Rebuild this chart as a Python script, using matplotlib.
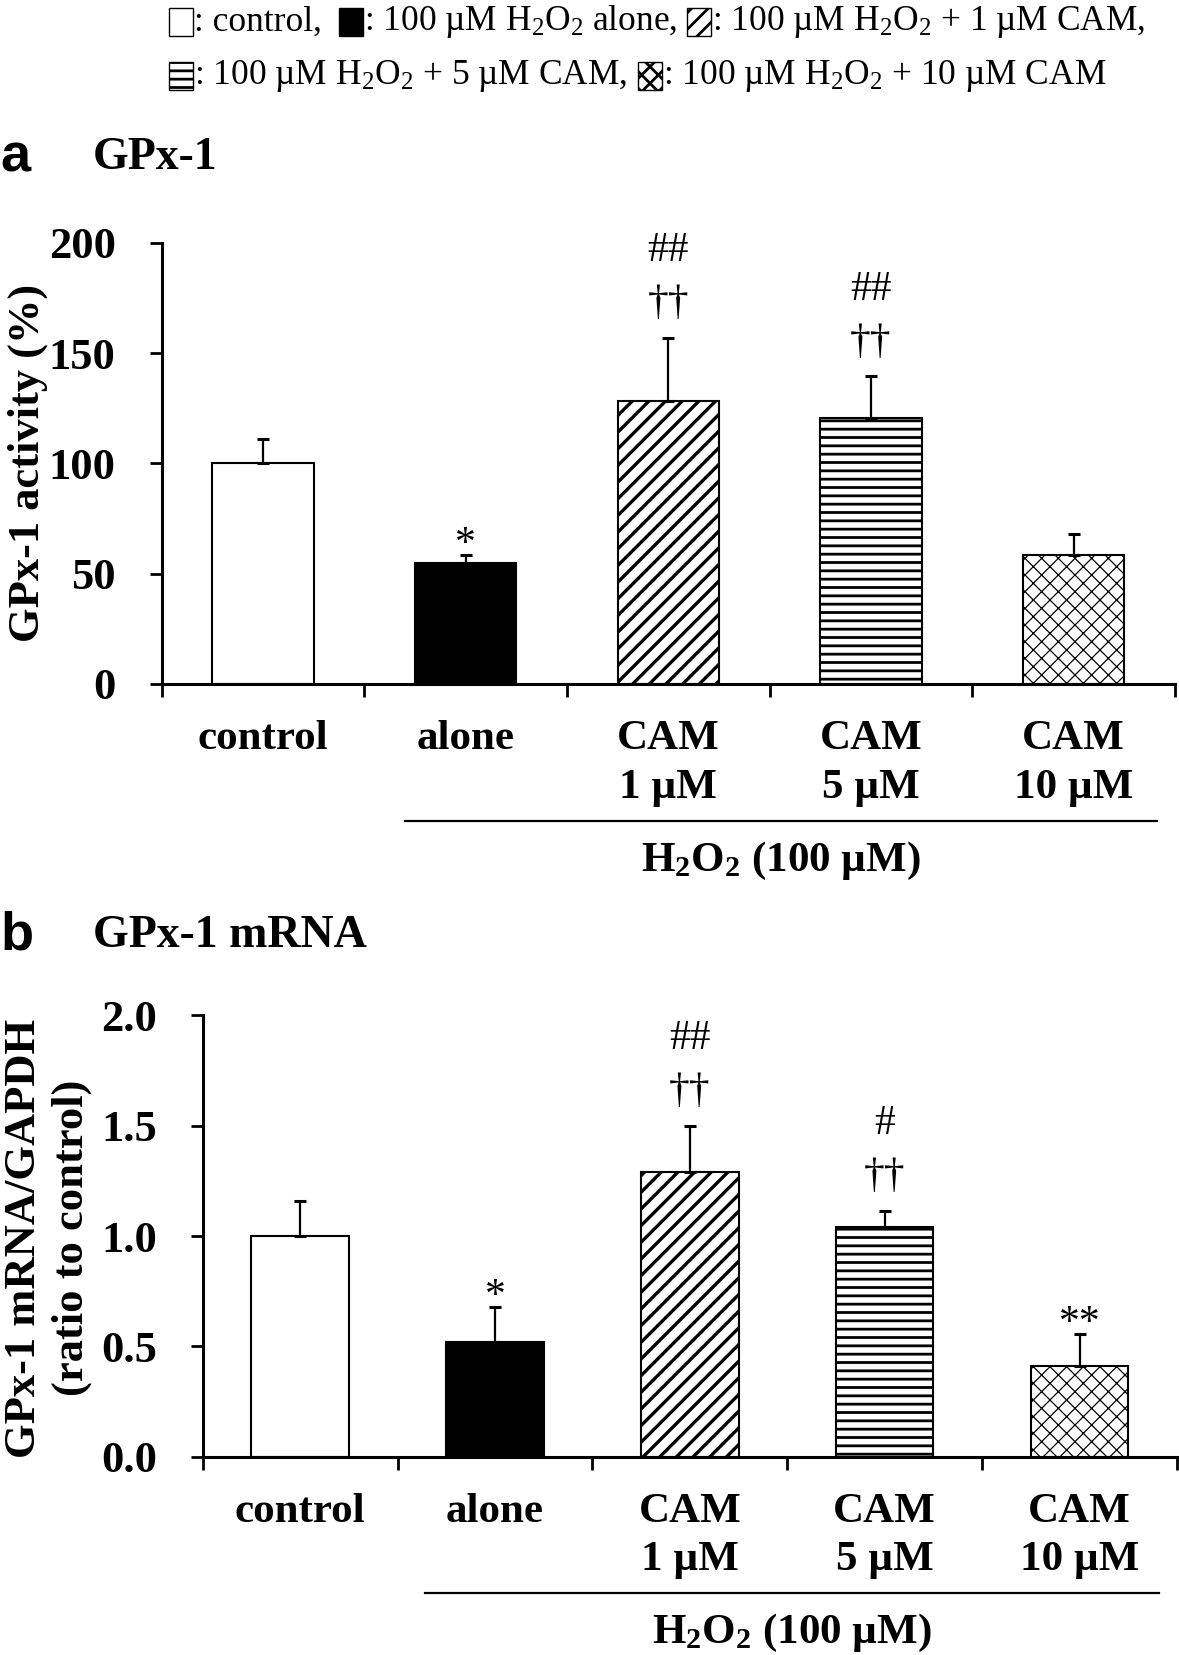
import numpy as np
import matplotlib
matplotlib.use("Agg")
import matplotlib.pyplot as plt
from matplotlib.patches import Rectangle

plt.rcParams['font.family'] = ['Liberation Serif', 'DejaVu Serif']
plt.rcParams['mathtext.fontset'] = 'custom'
plt.rcParams['mathtext.rm'] = 'Liberation Serif'
plt.rcParams['mathtext.bf'] = 'Liberation Serif:bold'
plt.rcParams['mathtext.it'] = 'Liberation Serif:italic'
plt.rcParams['hatch.linewidth'] = 2.0

# data
groups = ['control', 'alone', 'CAM', 'CAM', 'CAM']
doses = ['', '', '1 µM', '5 µM', '10 µM']
legend_labels = [': control, ',
                 r': 100 µM H$_2$O$_2$ alone, ',
                 r': 100 µM H$_2$O$_2$ + 1 µM CAM,',
                 r': 100 µM H$_2$O$_2$ + 5 µM CAM, ',
                 r': 100 µM H$_2$O$_2$ + 10 µM CAM']

activity = [100, 55, 128.5, 120.5, 58.5]
activity_err = [11, 3.5, 28.5, 19, 9.5]
activity_marks = [[], ['*'], ['††', '##'], ['††', '##'], []]
activity_ticks = [0, 50, 100, 150, 200]

mrna = [1.0, 0.52, 1.29, 1.04, 0.41]
mrna_err = [0.16, 0.16, 0.21, 0.075, 0.145]
mrna_marks = [[], ['*'], ['††', '##'], ['††', '#'], ['**']]
mrna_ticks = [0.0, 0.5, 1.0, 1.5, 2.0]

# styles
fills = ['white', 'black', 'white', 'white', 'white']
hatches = [None, None, '//', '--', 'xx']
hatch_lw = [1.0, 1.0, 2.4, 2.0, 0.9]
mark_offset = {'*': 0, '†': 17, '#': 55}   # baseline offset above error cap, points

W, H = 1179, 1655
fig = plt.figure(figsize=(W / 100, H / 100), dpi=100)


def fx(px):
    return px / W


def fy(py):
    return 1 - py / H


def draw_panel(ax, vals, errs, marks, ticks, ylim, ticklabels, line_x):
    x = np.arange(len(vals))
    bars = ax.bar(x, vals, width=0.5, color=fills, edgecolor='black', linewidth=1.5, zorder=2)
    for b, h, lw in zip(bars, hatches, hatch_lw):
        if h:
            b.set_hatch(h)
            if hasattr(b, 'set_hatch_linewidth'):
                b.set_hatch_linewidth(lw)
    ax.errorbar(x, vals, yerr=[np.zeros(len(vals)), errs], fmt='none', ecolor='black',
                elinewidth=1.6, capsize=4, capthick=2.2, zorder=3)
    for i, ms in enumerate(marks):
        for m in ms:
            ax.annotate(m, xy=(i, vals[i] + errs[i]), xytext=(0, mark_offset[m[0]]),
                        textcoords='offset points', ha='center', va='baseline',
                        fontsize=30, annotation_clip=False)
    ax.set_xlim(-0.5, len(vals) - 0.5)
    ax.set_ylim(*ylim)
    ax.set_xticks(np.arange(-0.5, len(vals), 1.0))
    ax.set_xticklabels([])
    ax.set_yticks(ticks, ticklabels, fontweight='bold', fontsize=32)
    ax.tick_params(axis='both', direction='out', length=9, width=2)
    ax.tick_params(axis='y', pad=24)
    for s in ['top', 'right']:
        ax.spines[s].set_visible(False)
    for s in ['left', 'bottom']:
        ax.spines[s].set_linewidth(2.2)
    tr = ax.get_xaxis_transform()
    for i in range(len(vals)):
        ax.text(i, -0.125, groups[i], transform=tr, ha='center', va='center',
                fontsize=31, fontweight='bold')
        if doses[i]:
            ax.text(i, -0.235, doses[i], transform=tr, ha='center', va='center',
                    fontsize=31, fontweight='bold')
    ax.plot(line_x, [-0.31, -0.31], transform=tr, color='black', lw=1.6, clip_on=False)
    ax.text(np.mean(line_x), -0.40, r'H$_\mathbf{2}$O$_\mathbf{2}$ (100 µM)', transform=tr,
            ha='center', va='center', fontsize=31, fontweight='bold')


ax_a = fig.add_axes([fx(161.5), fy(684), fx(1175) - fx(161.5), 441.2 / H])
draw_panel(ax_a, activity, activity_err, activity_marks, activity_ticks, (0, 200),
           [str(t) for t in activity_ticks], [0.7, 4.41])

ax_b = fig.add_axes([fx(202.7), fy(1456.6), fx(1177) - fx(202.7), 441.2 / H])
draw_panel(ax_b, mrna, mrna_err, mrna_marks, mrna_ticks, (0, 2.0),
           ['%.1f' % t for t in mrna_ticks], [0.64, 4.41])

# panel titles and y labels
fig.text(fx(0), fy(158), 'a', family='Liberation Sans', fontweight='bold', fontsize=39,
         ha='left', va='center')
fig.text(fx(93), fy(158), 'GPx-1', fontweight='bold', fontsize=33, ha='left', va='center')
fig.text(fx(0), fy(936), 'b', family='Liberation Sans', fontweight='bold', fontsize=39,
         ha='left', va='center')
fig.text(fx(93), fy(936), 'GPx-1 mRNA', fontweight='bold', fontsize=33, ha='left', va='center')

fig.text(fx(28), fy(463), 'GPx-1 activity (%)', rotation=90, fontweight='bold', fontsize=32,
         ha='center', va='center')
fig.text(fx(24), fy(1238), 'GPx-1 mRNA/GAPDH', rotation=90, fontweight='bold', fontsize=32,
         ha='center', va='center')
fig.text(fx(72), fy(1238), '(ratio to control)', rotation=90, fontweight='bold', fontsize=32,
         ha='center', va='center')

# legend drawn as patches + text, laid out left to right
renderer = fig.canvas.get_renderer()
legend_rows = [[0, 1, 2], [3, 4]]
row_y = [22, 76]
for row, yc in zip(legend_rows, row_y):
    xpos = 169
    for k in row:
        fig.add_artist(Rectangle((fx(xpos), fy(yc + 14)), 24 / W, 28 / H,
                                 transform=fig.transFigure, facecolor=fills[k],
                                 edgecolor='black', linewidth=1.0,
                                 hatch=hatches[k] if hatches[k] else None))
        t = fig.text(fx(xpos + 25), fy(yc), legend_labels[k], fontsize=25.5,
                     ha='left', va='center')
        bb = t.get_window_extent(renderer)
        xpos = xpos + 25 + bb.width + 8

fig.savefig('out.png', dpi=100)
